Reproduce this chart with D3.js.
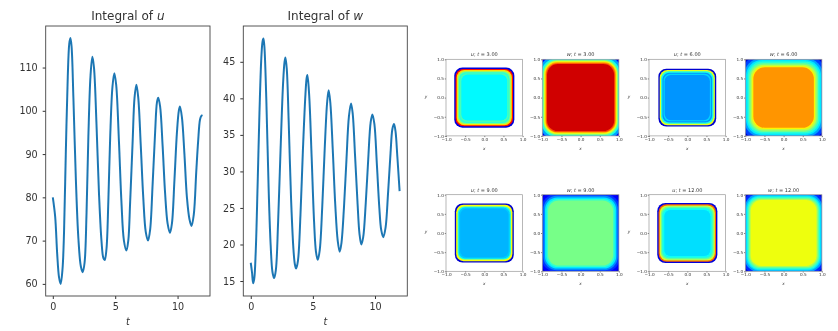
<!DOCTYPE html>
<html>
<head>
<meta charset="utf-8">
<script src="https://cdn.jsdelivr.net/npm/d3@7"></script>
<style>
  html, body { margin: 0; padding: 0; background: #fff; }
  text { font-family: "DejaVu Sans", sans-serif; fill: #333; }
</style>
</head>
<body>
<div id="chart"></div>
<script>
// Integral of u
var uTime = [0,0.19,0.35,0.5,0.63,0.78,0.9,1.04,1.2,1.32,1.41,1.5,1.65,1.85,2.05,2.25,2.4,2.55,2.7,2.85,3.02,3.17,3.3,3.5,3.7,3.9,4.05,4.16,4.3,4.45,4.6,4.78,4.93,5.08,5.3,5.5,5.7,5.9,6.05,6.2,6.4,6.55,6.7,6.85,7.05,7.25,7.45,7.63,7.8,8.0,8.2,8.35,8.45,8.6,8.8,9.0,9.2,9.39,9.55,9.75,9.95,10.1,10.19,10.35,10.55,10.75,10.95,11.12,11.3,11.5,11.65,11.8,11.9,12];
var uValues = [80,75.5,67,61.5,60,63.5,72,90,108,115.5,116.8,115,103,84,70.5,64,62.7,65,76,94,108,112.5,110,97,81,70,66,65.5,68,79,94,105.5,108.7,106,93,79,70,67.7,70,79,93,103,106,103,92,80,72,70,72.5,83,95,102,103,101,92,81,74,71.8,74,84,95,100,101,98.5,90,80,75,73.4,76,86,93,98,98.8,99];

// Integral of w
var wTime = [0,0.1,0.19,0.28,0.4,0.55,0.7,0.85,0.95,1.02,1.1,1.25,1.45,1.6,1.75,1.88,2.02,2.2,2.4,2.6,2.72,2.79,2.9,3.05,3.25,3.45,3.55,3.65,3.8,4.0,4.2,4.4,4.5,4.56,4.7,4.9,5.1,5.25,5.39,5.55,5.75,5.95,6.15,6.27,6.4,6.6,6.8,7.0,7.16,7.3,7.5,7.7,7.9,8.07,8.2,8.4,8.6,8.75,8.9,9.05,9.25,9.45,9.65,9.79,9.95,10.15,10.35,10.5,10.67,10.85,11.05,11.25,11.4,11.53,11.65,11.8,11.98];
var wValues = [17.5,16.2,14.7,15.3,19,28,38,45.5,47.8,48.2,47,40,27,20,16.2,15.4,16.5,23,33,42,45,45.6,44,37,26,19,17.3,16.7,17.8,24,33,40.5,42.8,43.2,40.5,32,23,19,17.9,19.2,25,33,39.5,41.1,39.5,33,25.5,20.5,19,20.2,25,31.5,37.5,39.3,38,32,25.5,21.5,20,21,25.5,31.5,36.7,37.8,36.5,31,25,22,21,22.3,27,32.5,35.8,36.5,35.5,32,27.3];

var uTicks = [60,70,80,90,100,110];
var wTicks = [15,20,25,30,35,40,45];
var tTicks = [0,5,10];
var fieldTicks = [-1,-0.5,0,0.5,1];

// Contour bands of the small fields: half width of each band and its level on the jet scale
var u3Half = [0.785,0.75,0.72,0.69,0.66,0.63,0.6];
var u3Level = [0.08,0.88,0.68,0.5,0.4,0.44,0.345];
var u6Half = [0.755,0.72,0.685,0.65,0.62,0.59];
var u6Level = [0.07,0.62,0.38,0.25,0.31,0.25];
var u9Half = [0.77,0.735,0.695,0.665,0.63];
var u9Level = [0.07,0.64,0.38,0.3,0.28];
var u12Half = [0.785,0.75,0.72,0.69,0.66,0.63,0.6];
var u12Level = [0.08,0.8,0.6,0.48,0.4,0.36,0.32];

var w3Half = [1.6,1.08,1.02,0.98,0.96,0.94,0.92,0.9,0.875];
var w3Level = [0.1,0.26,0.38,0.48,0.58,0.66,0.74,0.82,0.93];
var w6Half = [1.6,1.1,1.03,0.98,0.94,0.9,0.86,0.82,0.79];
var w6Level = [0.07,0.17,0.26,0.33,0.4,0.48,0.57,0.66,0.75];
var w9Half = [1.6,1.08,1.02,0.97,0.93,0.89,0.85];
var w9Level = [0.07,0.11,0.16,0.24,0.33,0.41,0.49];
var w12Half = [1.6,1.08,1.02,0.98,0.95,0.92,0.89,0.86];
var w12Level = [0.07,0.15,0.26,0.32,0.39,0.47,0.55,0.63];

var svg = d3.select("#chart").append("svg")
    .attr("width", 838)
    .attr("height", 331);

svg.append("rect").attr("width", 838).attr("height", 331).attr("fill", "#fff");

var defs = svg.append("defs");
defs.append("filter").attr("id", "soft").attr("x", "-5%").attr("y", "-5%").attr("width", "110%").attr("height", "110%")
    .append("feGaussianBlur").attr("stdDeviation", 0.35);
defs.append("filter").attr("id", "softer").attr("x", "-5%").attr("y", "-5%").attr("width", "110%").attr("height", "110%")
    .append("feGaussianBlur").attr("stdDeviation", 0.45);

var jet = d3.scaleLinear()
    .domain([0, 0.11, 0.35, 0.65, 0.89, 1])
    .range(["#00007f", "#0000ff", "#00ffff", "#ffff00", "#ff0000", "#7f0000"])
    .clamp(true);

function styleAxis(g, color, size) {
    g.selectAll(".domain").remove();
    g.selectAll("line").attr("stroke", color);
    g.selectAll("text").style("font-size", size + "px");
}

// Large line plot
function linePlot(box, yDomain, xDomain, times, values, yTicks, name) {
    var x = d3.scaleLinear().domain(xDomain).range([box.left, box.right]);
    var y = d3.scaleLinear().domain(yDomain).range([box.bottom, box.top]);
    var g = svg.append("g").attr("filter", "url(#soft)");

    var xAxis = g.append("g").attr("transform", "translate(0," + box.bottom + ")")
        .call(d3.axisBottom(x).tickValues(tTicks).tickFormat(d3.format("d")).tickSize(3).tickPadding(4));
    styleAxis(xAxis, "#333", 9.6);
    var yAxis = g.append("g").attr("transform", "translate(" + box.left + ",0)")
        .call(d3.axisLeft(y).tickValues(yTicks).tickFormat(d3.format("d")).tickSize(3).tickPadding(5));
    styleAxis(yAxis, "#333", 9.6);

    var line = d3.line()
        .x(function(d) { return x(d[0]); })
        .y(function(d) { return y(d[1]); })
        .curve(d3.curveCatmullRom);
    g.append("path")
        .datum(d3.zip(times, values))
        .attr("fill", "none")
        .attr("stroke", "#1f77b4")
        .attr("stroke-width", 2)
        .attr("d", line);

    g.append("rect")
        .attr("x", box.left).attr("y", box.top)
        .attr("width", box.right - box.left).attr("height", box.bottom - box.top)
        .attr("fill", "none").attr("stroke", "#444").attr("stroke-width", 0.9);

    var title = g.append("text")
        .attr("x", (box.left + box.right) / 2).attr("y", box.top - 6)
        .attr("text-anchor", "middle").style("font-size", "12px");
    title.append("tspan").text("Integral of ");
    title.append("tspan").style("font-style", "italic").text(name);

    g.append("text")
        .attr("x", (box.left + box.right) / 2).attr("y", box.bottom + 29)
        .attr("text-anchor", "middle").style("font-size", "9.6px").style("font-style", "italic")
        .text("t");
}

linePlot({ left: 45.7, right: 210, top: 26, bottom: 296 }, [57.2, 119.6], [-0.57, 12.6], uTime, uValues, uTicks, "u");
linePlot({ left: 243.3, right: 407.3, top: 26, bottom: 296 }, [12.95, 49.9], [-0.6, 12.6], wTime, wValues, wTicks, "w");

// Small field panel drawn as nested rounded bands
var panelCount = 0;
function fieldPanel(left, top, name, time, halves, levels, corner, spread, showY) {
    var size = 76.6;
    var x = d3.scaleLinear().domain([-1, 1]).range([left, left + size]);
    var y = d3.scaleLinear().domain([-1, 1]).range([top + size, top]);
    var g = svg.append("g").attr("filter", "url(#soft)");
    var clipId = "clip" + (panelCount++);
    var inner = d3.min(halves);

    defs.append("clipPath").attr("id", clipId)
        .append("rect").attr("x", left).attr("y", top).attr("width", size).attr("height", size);

    // outer bands get a wider corner than the plateau
    var bands = g.append("g").attr("clip-path", "url(#" + clipId + ")")
        .append("g").attr("filter", "url(#softer)");
    bands.selectAll("rect")
        .data(d3.zip(halves, levels))
        .join("rect")
        .attr("x", function(d) { return x(-d[0]); })
        .attr("y", function(d) { return y(d[0]); })
        .attr("width", function(d) { return x(d[0]) - x(-d[0]); })
        .attr("height", function(d) { return y(-d[0]) - y(d[0]); })
        .attr("rx", function(d) { return x(-1 + corner + spread * (d[0] - inner)) - x(-1); })
        .attr("fill", function(d) { return jet(d[1]); });

    var fmt = function(d) { return d3.format(".1f")(d).replace("-", "\u2212"); };
    var xAxis = g.append("g").attr("transform", "translate(0," + (top + size) + ")")
        .call(d3.axisBottom(x).tickValues(fieldTicks).tickFormat(fmt).tickSize(1.2).tickPadding(1));
    styleAxis(xAxis, "#777", 4.2);
    var yAxis = g.append("g").attr("transform", "translate(" + left + ",0)")
        .call(d3.axisLeft(y).tickValues(fieldTicks).tickFormat(fmt).tickSize(1.2).tickPadding(1));
    styleAxis(yAxis, "#777", 4.2);

    g.append("rect")
        .attr("x", left).attr("y", top).attr("width", size).attr("height", size)
        .attr("fill", "none").attr("stroke", "#999").attr("stroke-width", 0.7);

    var title = g.append("text")
        .attr("x", left + size / 2).attr("y", top - 3)
        .attr("text-anchor", "middle").style("font-size", "5px");
    title.append("tspan").style("font-style", "italic").text(name);
    title.append("tspan").text("; ");
    title.append("tspan").style("font-style", "italic").text("t");
    title.append("tspan").text(" = " + time);

    g.append("text")
        .attr("x", left + size / 2).attr("y", top + size + 14)
        .attr("text-anchor", "middle").style("font-size", "4.2px").style("font-style", "italic")
        .text("x");
    if (showY) {
        g.append("text")
            .attr("x", left - 20).attr("y", top + size / 2)
            .attr("text-anchor", "middle").style("font-size", "4.2px").style("font-style", "italic")
            .text("y");
    }
}

fieldPanel(446, 59.3, "u", "3.00", u3Half, u3Level, 0.16, 0.3, true);
fieldPanel(542.3, 59.3, "w", "3.00", w3Half, w3Level, 0.28, 0.7, false);
fieldPanel(649, 59.3, "u", "6.00", u6Half, u6Level, 0.16, 0.3, true);
fieldPanel(745.3, 59.3, "w", "6.00", w6Half, w6Level, 0.3, 0.6, false);
fieldPanel(446, 194.7, "u", "9.00", u9Half, u9Level, 0.16, 0.3, true);
fieldPanel(542.3, 194.7, "w", "9.00", w9Half, w9Level, 0.28, 0.6, false);
fieldPanel(649, 194.7, "u", "12.00", u12Half, u12Level, 0.16, 0.3, true);
fieldPanel(745.3, 194.7, "w", "12.00", w12Half, w12Level, 0.28, 0.6, false);
</script>
</body>
</html>
